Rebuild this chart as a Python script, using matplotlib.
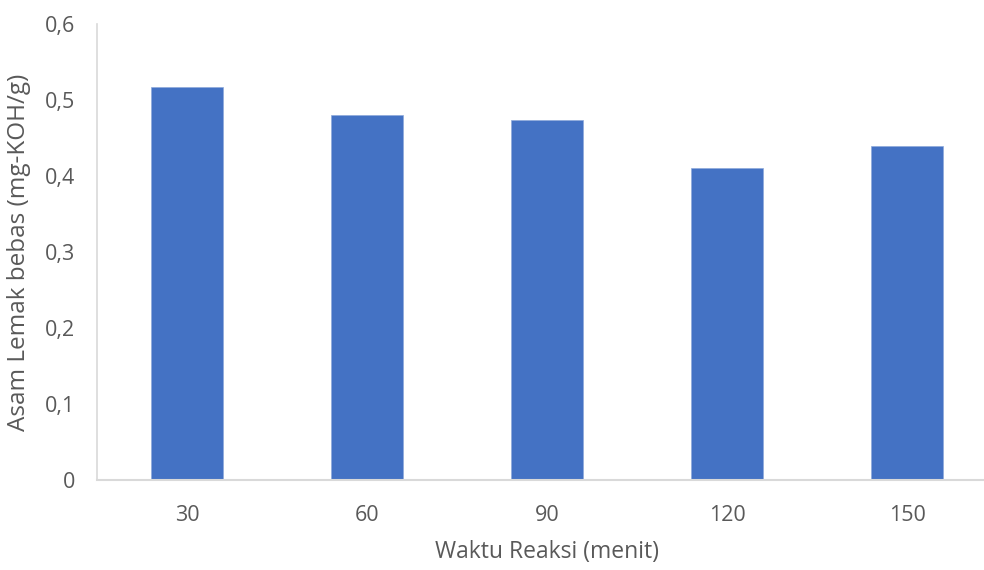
import matplotlib
matplotlib.use("Agg")
import matplotlib.pyplot as plt
from matplotlib.ticker import FuncFormatter

categories = ["30", "60", "90", "120", "150"]
values = [0.517, 0.480, 0.474, 0.410, 0.440]
yticks = [0, 0.1, 0.2, 0.3, 0.4, 0.5, 0.6]

plt.rcParams['font.family'] = ['Open Sans', 'DejaVu Sans']
W, H = 984, 570
fig = plt.figure(figsize=(W/100, H/100), dpi=100)
ax = fig.add_axes([97/W, (H-480)/H, 900/W, 456/H])

x = range(len(categories))
ax.bar(x, values, width=0.4, color="#4472C4", edgecolor="#8EA9DB", linewidth=0.5)
ax.set_xlim(-0.5, len(categories) - 0.5)
ax.set_ylim(0, 0.6)
ax.set_xticks(list(x))
ax.set_xticklabels(categories)
ax.set_yticks(yticks)
ax.yaxis.set_major_formatter(FuncFormatter(lambda v, p: "0" if v == 0 else f"{v:.1f}".replace(".", ",")))

txt = "#595959"
ax.tick_params(axis="both", length=0, labelsize=15.5, colors=txt)
ax.tick_params(axis="x", pad=18)
ax.tick_params(axis="y", pad=16)
for s in ["top", "right"]:
    ax.spines[s].set_visible(False)
ax.spines["left"].set_color("#D9D9D9")
ax.spines["bottom"].set_color("#D9D9D9")
ax.spines["left"].set_linewidth(1.2)
ax.spines["bottom"].set_linewidth(1.5)

ax.set_xlabel("Waktu Reaksi (menit)", fontsize=16.5, color=txt, labelpad=10)
ax.set_ylabel("Asam Lemak bebas (mg-KOH/g)", fontsize=17.5, color=txt, labelpad=10)

fig.savefig("out.png", dpi=100)
